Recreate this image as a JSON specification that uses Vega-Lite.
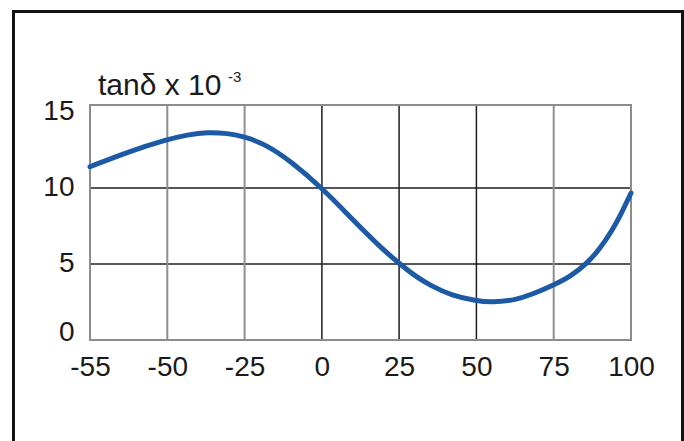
{
  "$schema": "https://vega.github.io/schema/vega-lite/v6.json",
  "autosize": "none",
  "padding": {"left": 13.5, "top": 11.5, "right": 1.5, "bottom": 0},
  "width": 669,
  "height": 432,
  "background": "white",
  "config": {
    "view": {"stroke": "#111111", "strokeWidth": 3},
    "font": "Liberation Sans"
  },
  "datasets": {
    "curve": [
      {"t": -55, "v": 11.4},
      {"t": -52.5, "v": 12.4},
      {"t": -50, "v": 13.2},
      {"t": -43.5, "v": 13.5},
      {"t": -37, "v": 13.68},
      {"t": -30.5, "v": 13.6},
      {"t": -25, "v": 13.38},
      {"t": -18, "v": 12.85},
      {"t": -10, "v": 11.75},
      {"t": 0, "v": 10.0},
      {"t": 9, "v": 8.13},
      {"t": 13.3, "v": 7.24},
      {"t": 19, "v": 6.09},
      {"t": 25, "v": 5.04},
      {"t": 30, "v": 4.23},
      {"t": 35.4, "v": 3.55},
      {"t": 42, "v": 2.93},
      {"t": 50, "v": 2.57},
      {"t": 55, "v": 2.47},
      {"t": 62.5, "v": 2.62},
      {"t": 68, "v": 3.0},
      {"t": 75, "v": 3.62},
      {"t": 80.2, "v": 4.15},
      {"t": 85.6, "v": 5.0},
      {"t": 89.9, "v": 5.99},
      {"t": 93.8, "v": 7.16},
      {"t": 97, "v": 8.37},
      {"t": 100, "v": 9.67}
    ],
    "vgrid": [{"t": -50}, {"t": -25}, {"t": 0}, {"t": 25}, {"t": 50}, {"t": 75}],
    "hgrid": [{"v": 5}, {"v": 10}]
  },
  "layer": [
    {
      "data": {"name": "curve"},
      "mark": {"type": "line", "opacity": 0},
      "encoding": {
        "x": {
          "field": "t", "type": "quantitative",
          "scale": {"type": "linear", "domain": [-55, -50, -25, 0, 25, 50, 75, 100], "range": [76.5, 153.8, 231.1, 308.4, 385.6, 462.9, 540.2, 617.5], "nice": false, "zero": false},
          "axis": {"values": [-55, -50, -25, 0, 25, 50, 75, 100], "orient": "bottom", "offset": -103.5, "domain": false, "ticks": false, "grid": false, "labelPadding": 13, "labelFontSize": 28, "labelColor": "#1a1a1a", "labelFont": "Liberation Sans", "labelExpr": "'' + datum.value", "labelOverlap": false, "labelBound": false, "labelFlush": false, "title": null}
        },
        "y": {
          "field": "v", "type": "quantitative",
          "scale": {"type": "linear", "domain": [0, 15.46], "range": [328.5, 93.5], "nice": false, "zero": false},
          "axis": {"values": [0, 5, 10, 15], "orient": "left", "offset": -76.5, "domain": false, "ticks": false, "grid": false, "labelPadding": 16, "labelFontSize": 28, "labelColor": "#1a1a1a", "labelFont": "Liberation Sans", "labelFlush": true, "labelFlushOffset": 6, "labelOverlap": false, "labelBound": false, "title": null}
        }
      }
    },
    {
      "data": {"name": "hgrid"},
      "mark": {"type": "rule", "color": "#1e1e1e", "strokeWidth": 1.5},
      "encoding": {
        "y": {"field": "v", "type": "quantitative"},
        "x": {"datum": -55},
        "x2": {"datum": 100}
      }
    },
    {
      "data": {"name": "vgrid"},
      "mark": {"type": "rule"},
      "encoding": {
        "x": {"field": "t", "type": "quantitative"},
        "y": {"datum": 0},
        "y2": {"datum": 15.46},
        "color": {"condition": {"test": "datum.t == 0 || datum.t == 25 || datum.t == 50", "value": "#1e1e1e"}, "value": "#8f8f8f"},
        "strokeWidth": {"condition": {"test": "datum.t == 0 || datum.t == 25 || datum.t == 50", "value": 1.5}, "value": 2}
      }
    },
    {
      "data": {"values": [{}]},
      "mark": {"type": "rect", "fillOpacity": 0, "stroke": "#8c8c8c", "strokeWidth": 2},
      "encoding": {
        "x": {"datum": -55},
        "x2": {"datum": 100},
        "y": {"datum": 0},
        "y2": {"datum": 15.46}
      }
    },
    {
      "data": {"name": "curve"},
      "mark": {"type": "line", "color": "#1c5aa6", "strokeWidth": 5, "strokeCap": "round", "interpolate": "basis"},
      "encoding": {
        "x": {"field": "t", "type": "quantitative"},
        "y": {"field": "v", "type": "quantitative"}
      }
    },
    {
      "data": {"values": [{}]},
      "mark": {"type": "text", "text": "tanδ x 10", "align": "left", "baseline": "alphabetic", "dx": 8, "dy": -10, "fontSize": 30, "font": "Liberation Sans", "color": "#1a1a1a"},
      "encoding": {
        "x": {"datum": -55},
        "y": {"datum": 15.46}
      }
    },
    {
      "data": {"values": [{}]},
      "mark": {"type": "text", "text": "-3", "align": "left", "baseline": "alphabetic", "dx": 138, "dy": -23, "fontSize": 15, "font": "Liberation Sans", "color": "#1a1a1a"},
      "encoding": {
        "x": {"datum": -55},
        "y": {"datum": 15.46}
      }
    }
  ]
}
